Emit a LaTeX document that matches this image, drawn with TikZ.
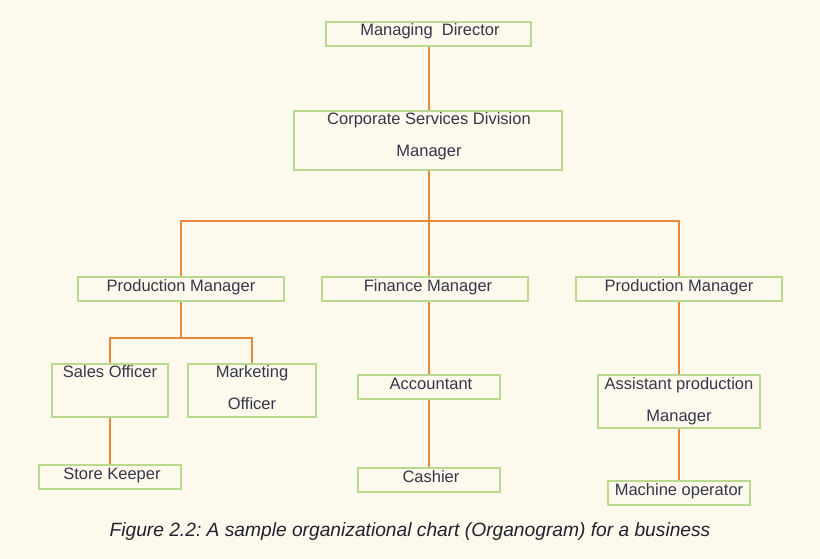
\documentclass[tikz,border=0pt]{standalone}
\usepackage{fontspec}
\setmainfont{Liberation Sans}
\frenchspacing
\definecolor{bg}{HTML}{FDF9EC}
\definecolor{boxgreen}{HTML}{B8D98E}
\definecolor{linkorange}{HTML}{E8883A}
\definecolor{txt}{HTML}{36364A}
\definecolor{captxt}{HTML}{222230}
\tikzset{
  orgbox/.style={draw=boxgreen, line width=1.6pt, inner sep=0pt, fill=none},
  lbl/.style={anchor=base, inner sep=0pt, text=txt, font=\fontsize{16.5}{19}\selectfont},
  link/.style={draw=linkorange, line width=1.4pt}
}
\begin{document}
\begin{tikzpicture}[x=1pt,y=-1pt]
\fill[bg] (0,0) rectangle (820,559);
\useasboundingbox (0,0) rectangle (820,559);
% boxes
\node[orgbox, minimum width=205pt, minimum height=24pt] (md) at (428.5,34) {};
\node[orgbox, minimum width=268pt, minimum height=59pt] (csd) at (428,140.5) {};
\node[orgbox, minimum width=206pt, minimum height=24pt] (pm1) at (181,289) {};
\node[orgbox, minimum width=206pt, minimum height=24pt] (fm) at (425,289) {};
\node[orgbox, minimum width=206pt, minimum height=24pt] (pm3) at (679,289) {};
\node[orgbox, minimum width=116pt, minimum height=53pt] (so) at (110,390.5) {};
\node[orgbox, minimum width=128pt, minimum height=53pt] (mo) at (252,390.5) {};
\node[orgbox, minimum width=142pt, minimum height=24pt] (sk) at (110,477) {};
\node[orgbox, minimum width=142pt, minimum height=24pt] (acc) at (429,387) {};
\node[orgbox, minimum width=142pt, minimum height=24pt] (cash) at (429,480) {};
\node[orgbox, minimum width=162pt, minimum height=53pt] (apm) at (679,401.5) {};
\node[orgbox, minimum width=142pt, minimum height=24pt] (mop) at (679,493) {};
% labels
\node[lbl] (tmd) at (430,36) {Managing\ \ Director};
\node[lbl] (tcsd1) at (429,125) {Corporate Services Division};
\node[lbl] (tcsd2) at (429,157) {Manager};
\node[lbl] (tpm1) at (181,291) {Production Manager};
\node[lbl] (tfm) at (428,291) {Finance Manager};
\node[lbl] (tpm3) at (679,291) {Production Manager};
\node[lbl] (tso) at (110,377) {Sales Officer};
\node[lbl] (tmo1) at (252,377) {Marketing};
\node[lbl] (tmo2) at (252,409) {Officer};
\node[lbl] (tsk) at (112,479) {Store Keeper};
\node[lbl] (tacc) at (431,389) {Accountant};
\node[lbl] (tcash) at (431,482) {Cashier};
\node[lbl] (tapm1) at (679,389) {Assistant production};
\node[lbl] (tapm2) at (679,421) {Manager};
\node[lbl] (tmop) at (679,495) {Machine operator};
\node[anchor=base, inner sep=0pt, text=captxt, font=\fontsize{19.2}{22}\selectfont\itshape] (cap) at (410,536) {Figure 2.2: A sample organizational chart (Organogram) for a business};
% junctions
\coordinate (j1) at (429,221);
\coordinate (j2) at (181,338);
% connectors
\draw[link] (md.south -| j1) -- (csd.north -| j1);
\draw[link] (csd.south -| j1) -- (j1);
\draw[link] (j1) -| (pm1.north);
\draw[link] (j1) -- (j1 |- fm.north);
\draw[link] (j1) -| (pm3.north);
\draw[link] (pm1.south) -- (j2);
\draw[link] (j2) -| (so.north);
\draw[link] (j2) -| (mo.north);
\draw[link] (so.south) -- (sk.north);
\draw[link] (fm.south -| j1) -- (acc.north -| j1);
\draw[link] (acc.south -| j1) -- (cash.north -| j1);
\draw[link] (pm3.south) -- (apm.north);
\draw[link] (apm.south) -- (mop.north);
\end{tikzpicture}
\end{document}
